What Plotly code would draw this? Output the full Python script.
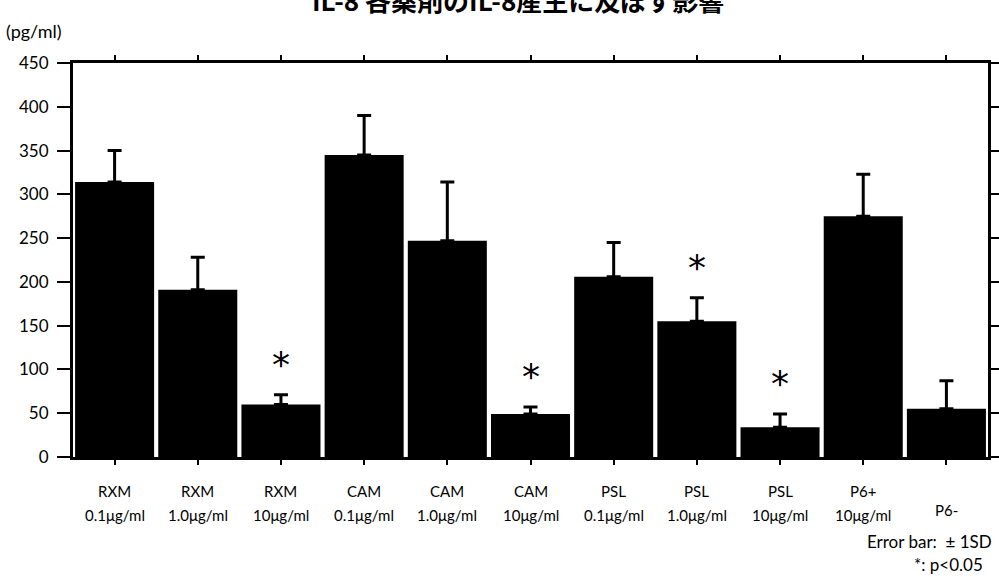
import plotly.graph_objects as go

drugs = ["RXM", "RXM", "RXM", "CAM", "CAM", "CAM", "PSL", "PSL", "PSL", "P6+", "P6-"]
doses = ["0.1μg/ml", "1.0μg/ml", "10μg/ml", "0.1μg/ml", "1.0μg/ml", "10μg/ml",
         "0.1μg/ml", "1.0μg/ml", "10μg/ml", "10μg/ml", ""]
means = [314, 191, 60, 345, 247, 49, 206, 155, 34, 275, 55]
sd = [36, 37, 11, 45, 67, 8, 39, 27, 15, 48, 32]
significant = [False, False, True, False, False, True, False, True, True, False, False]
y_ticks = [0, 50, 100, 150, 200, 250, 300, 350, 400, 450]

cats = list(range(len(means)))

fig = go.Figure()
fig.add_trace(go.Bar(
    x=cats, y=means,
    marker=dict(color="black", line=dict(width=0)),
    error_y=dict(type="data", symmetric=False, array=sd,
                 arrayminus=[0] * len(sd), color="black", thickness=3, width=7),
    showlegend=False,
))

font = "Lato, 'DejaVu Sans', sans-serif"

# asterisks for significance
for i, (m, s, sig) in enumerate(zip(means, sd, significant)):
    if sig:
        fig.add_annotation(x=i, y=m + s, yref="y", xref="x", text="*",
                           showarrow=False, yanchor="bottom", yshift=8,
                           font=dict(family="DejaVu Sans", size=36, color="black"))

# category labels
for i, (d, dose) in enumerate(zip(drugs, doses)):
    if dose:
        fig.add_annotation(x=i, y=0, xref="x", yref="y", text=d, showarrow=False,
                           yanchor="middle", yshift=-34,
                           font=dict(family=font, size=15, color="black"))
        fig.add_annotation(x=i, y=0, xref="x", yref="y", text=dose, showarrow=False,
                           yanchor="middle", yshift=-58,
                           font=dict(family=font, size=15, color="black"))
    else:
        fig.add_annotation(x=i, y=0, xref="x", yref="y", text=d, showarrow=False,
                           yanchor="middle", yshift=-53,
                           font=dict(family=font, size=15, color="black"))

fig.add_annotation(xref="paper", yref="paper", x=-0.075, y=1.048, text="(pg/ml)",
                   showarrow=False, xanchor="left", yanchor="bottom",
                   font=dict(family=font, size=18, color="black"))
fig.add_annotation(xref="paper", yref="paper", x=1.007, y=-0.214, text="Error bar:  ± 1SD",
                   showarrow=False, xanchor="right", yanchor="middle",
                   font=dict(family=font, size=17, color="black"))
fig.add_annotation(xref="paper", yref="paper", x=0.997, y=-0.272, text="*: p<0.05",
                   showarrow=False, xanchor="right", yanchor="middle",
                   font=dict(family=font, size=17, color="black"))
fig.add_annotation(xref="paper", yref="paper", x=0.486, y=1.16,
                   text="<b>IL-8 各薬剤のIL-8産生に及ぼす影響</b>",
                   showarrow=False, xanchor="center", yanchor="middle",
                   font=dict(family="Noto Sans CJK JP", size=26, color="black"))

fig.update_layout(
    width=999, height=577, autosize=False,
    margin=dict(l=73, r=11, t=63, b=120),
    paper_bgcolor="white", plot_bgcolor="white",
    bargap=0.05,
    xaxis=dict(range=[-0.5, len(means) - 0.5], tickvals=cats, showticklabels=False,
               ticks="outside", ticklen=5, tickwidth=2, tickcolor="black",
               showline=True, linecolor="black", linewidth=2.5, mirror="ticks",
               showgrid=False, zeroline=False, automargin=False),
    yaxis=dict(range=[0, 450], tickvals=y_ticks, ticks="outside", ticklen=13,
               tickwidth=2, tickcolor="black", showline=True, linecolor="black",
               linewidth=3, mirror="ticks", showgrid=False, zeroline=False,
               automargin=False,
               tickfont=dict(family=font, size=17, color="black"), ticklabelstandoff=5),
)

fig.write_html("out.html",
               config={"responsive": False, "displayModeBar": False},
               post_script="document.body.style.margin='0px';")
